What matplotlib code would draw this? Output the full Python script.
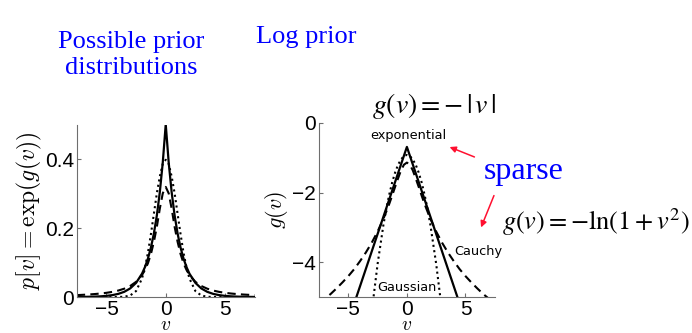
import numpy as np
import matplotlib
matplotlib.use('Agg')
import matplotlib.pyplot as plt

plt.rcParams['mathtext.fontset'] = 'cm'
plt.rcParams['font.family'] = 'Liberation Sans'

# sample points along v
v = [-7.5, -7, -6.5, -6, -5.5, -5, -4.5, -4, -3.5, -3, -2.5, -2, -1.75, -1.5,
     -1.25, -1, -0.75, -0.5, -0.25, 0, 0.25, 0.5, 0.75, 1, 1.25, 1.5, 1.75, 2,
     2.5, 3, 3.5, 4, 4.5, 5, 5.5, 6, 6.5, 7, 7.5]

# log prior g(v) for each family
g_exponential = [-8.19, -7.69, -7.19, -6.69, -6.19, -5.69, -5.19, -4.69, -4.19,
                 -3.69, -3.19, -2.69, -2.44, -2.19, -1.94, -1.69, -1.44, -1.19,
                 -0.94, -0.69, -0.94, -1.19, -1.44, -1.69, -1.94, -2.19, -2.44,
                 -2.69, -3.19, -3.69, -4.19, -4.69, -5.19, -5.69, -6.19, -6.69,
                 -7.19, -7.69, -8.19]
g_cauchy = [-5.19, -5.05, -4.91, -4.75, -4.58, -4.40, -4.20, -3.97, -3.72, -3.44,
            -3.12, -2.75, -2.54, -2.32, -2.08, -1.83, -1.59, -1.36, -1.20, -1.14,
            -1.20, -1.36, -1.59, -1.83, -2.08, -2.32, -2.54, -2.75, -3.12, -3.44,
            -3.72, -3.97, -4.20, -4.40, -4.58, -4.75, -4.91, -5.05, -5.19]
g_gaussian = [-29.05, -25.42, -22.05, -18.92, -16.05, -13.42, -11.05, -8.92,
              -7.05, -5.42, -4.05, -2.92, -2.45, -2.05, -1.70, -1.42, -1.20,
              -1.05, -0.95, -0.92, -0.95, -1.05, -1.20, -1.42, -1.70, -2.05,
              -2.45, -2.92, -4.05, -5.42, -7.05, -8.92, -11.05, -13.42, -16.05,
              -18.92, -22.05, -25.42, -29.05]

left_yticks = [0, 0.2, 0.4]
left_yticklabels = ['0', '0.2', '0.4']
right_yticks = [0, -2, -4]
right_yticklabels = ['0', '\u22122', '\u22124']
xticks = [-5, 0, 5]
xticklabels = ['\u22125', '0', '5']

BLUE = '#0000ff'
RED = '#ff1030'
SPINE = '#6e6e6e'

fig = plt.figure(figsize=(6.92, 3.33), dpi=100)


def style_axes(ax):
    for s in ['top', 'right']:
        ax.spines[s].set_visible(False)
    ax.spines['left'].set_color(SPINE)
    ax.spines['bottom'].set_color(SPINE)
    ax.tick_params(direction='in', length=3, color=SPINE, labelsize=15, pad=2)
    ax.set_xticks(xticks)
    ax.set_xticklabels(xticklabels)
    ax.set_xlim(-7.5, 7.5)
    ax.set_xlabel('$v$', fontsize=14, labelpad=-1)


# left: the priors themselves
ax1 = fig.add_axes([0.111, 0.108, 0.257, 0.517])
ax1.plot(v, np.exp(g_exponential), color='black', lw=1.6)
ax1.plot(v, np.exp(g_cauchy), color='black', lw=1.5, ls=(0, (4, 2.5)))
ax1.plot(v, np.exp(g_gaussian), color='black', lw=1.5, ls=(0, (1, 1.6)))
style_axes(ax1)
ax1.set_ylim(0, 0.5)
ax1.set_yticks(left_yticks)
ax1.set_yticklabels(left_yticklabels)
ax1.set_ylabel(r'$p[v]=\exp(g(v))$', fontsize=17, labelpad=1)

# right: log of the priors
ax2 = fig.add_axes([0.461, 0.108, 0.254, 0.523])
ax2.plot(v, g_exponential, color='black', lw=1.6)
ax2.plot(v, g_cauchy, color='black', lw=1.5, ls=(0, (4, 2.5)))
ax2.plot(v, g_gaussian, color='black', lw=1.5, ls=(0, (1, 1.6)))
style_axes(ax2)
ax2.set_ylim(-5, 0)
ax2.set_yticks(right_yticks)
ax2.set_yticklabels(right_yticklabels)
ax2.set_ylabel('$g(v)$', fontsize=16, labelpad=2)

ax2.text(0.1, -0.35, 'exponential', fontsize=9.3, family='DejaVu Sans',
         ha='center', va='center')
ax2.text(0, -4.72, 'Gaussian', fontsize=9.3, family='DejaVu Sans',
         ha='center', va='center')
ax2.text(4.0, -3.7, 'Cauchy', fontsize=9.3, family='DejaVu Sans',
         ha='left', va='center')

# titles and annotations
fig.text(131 / 692, 1 - 55 / 333, 'Possible prior\ndistributions',
         family='Liberation Serif', fontsize=19, color=BLUE,
         ha='center', va='center', linespacing=1.25)
fig.text(306 / 692, 1 - 37 / 333, 'Log prior', family='Liberation Serif',
         fontsize=19, color=BLUE, ha='center', va='center')
fig.text(434 / 692, 1 - 106 / 333, r'$g(v)=-\,|\,v\,|$', fontsize=20,
         math_fontfamily='stix', ha='center', va='center')
fig.text(524 / 692, 1 - 172 / 333, 'sparse', family='Liberation Serif',
         fontsize=23, color=BLUE, ha='center', va='center')
fig.text(596 / 692, 1 - 222 / 333, r'$g(v)=-\mathrm{ln}(1+v^2)$',
         fontsize=19, math_fontfamily='stix', ha='center', va='center')

fig.add_artist(matplotlib.patches.FancyArrowPatch(
    (477 / 692, 1 - 158 / 333), (447 / 692, 1 - 146 / 333),
    transform=fig.transFigure, arrowstyle='-|>', mutation_scale=9,
    color=RED, lw=1.1))
fig.add_artist(matplotlib.patches.FancyArrowPatch(
    (495 / 692, 1 - 193 / 333), (480 / 692, 1 - 230 / 333),
    transform=fig.transFigure, arrowstyle='-|>', mutation_scale=9,
    color=RED, lw=1.1))

fig.savefig('out.png', dpi=100, facecolor='white')
